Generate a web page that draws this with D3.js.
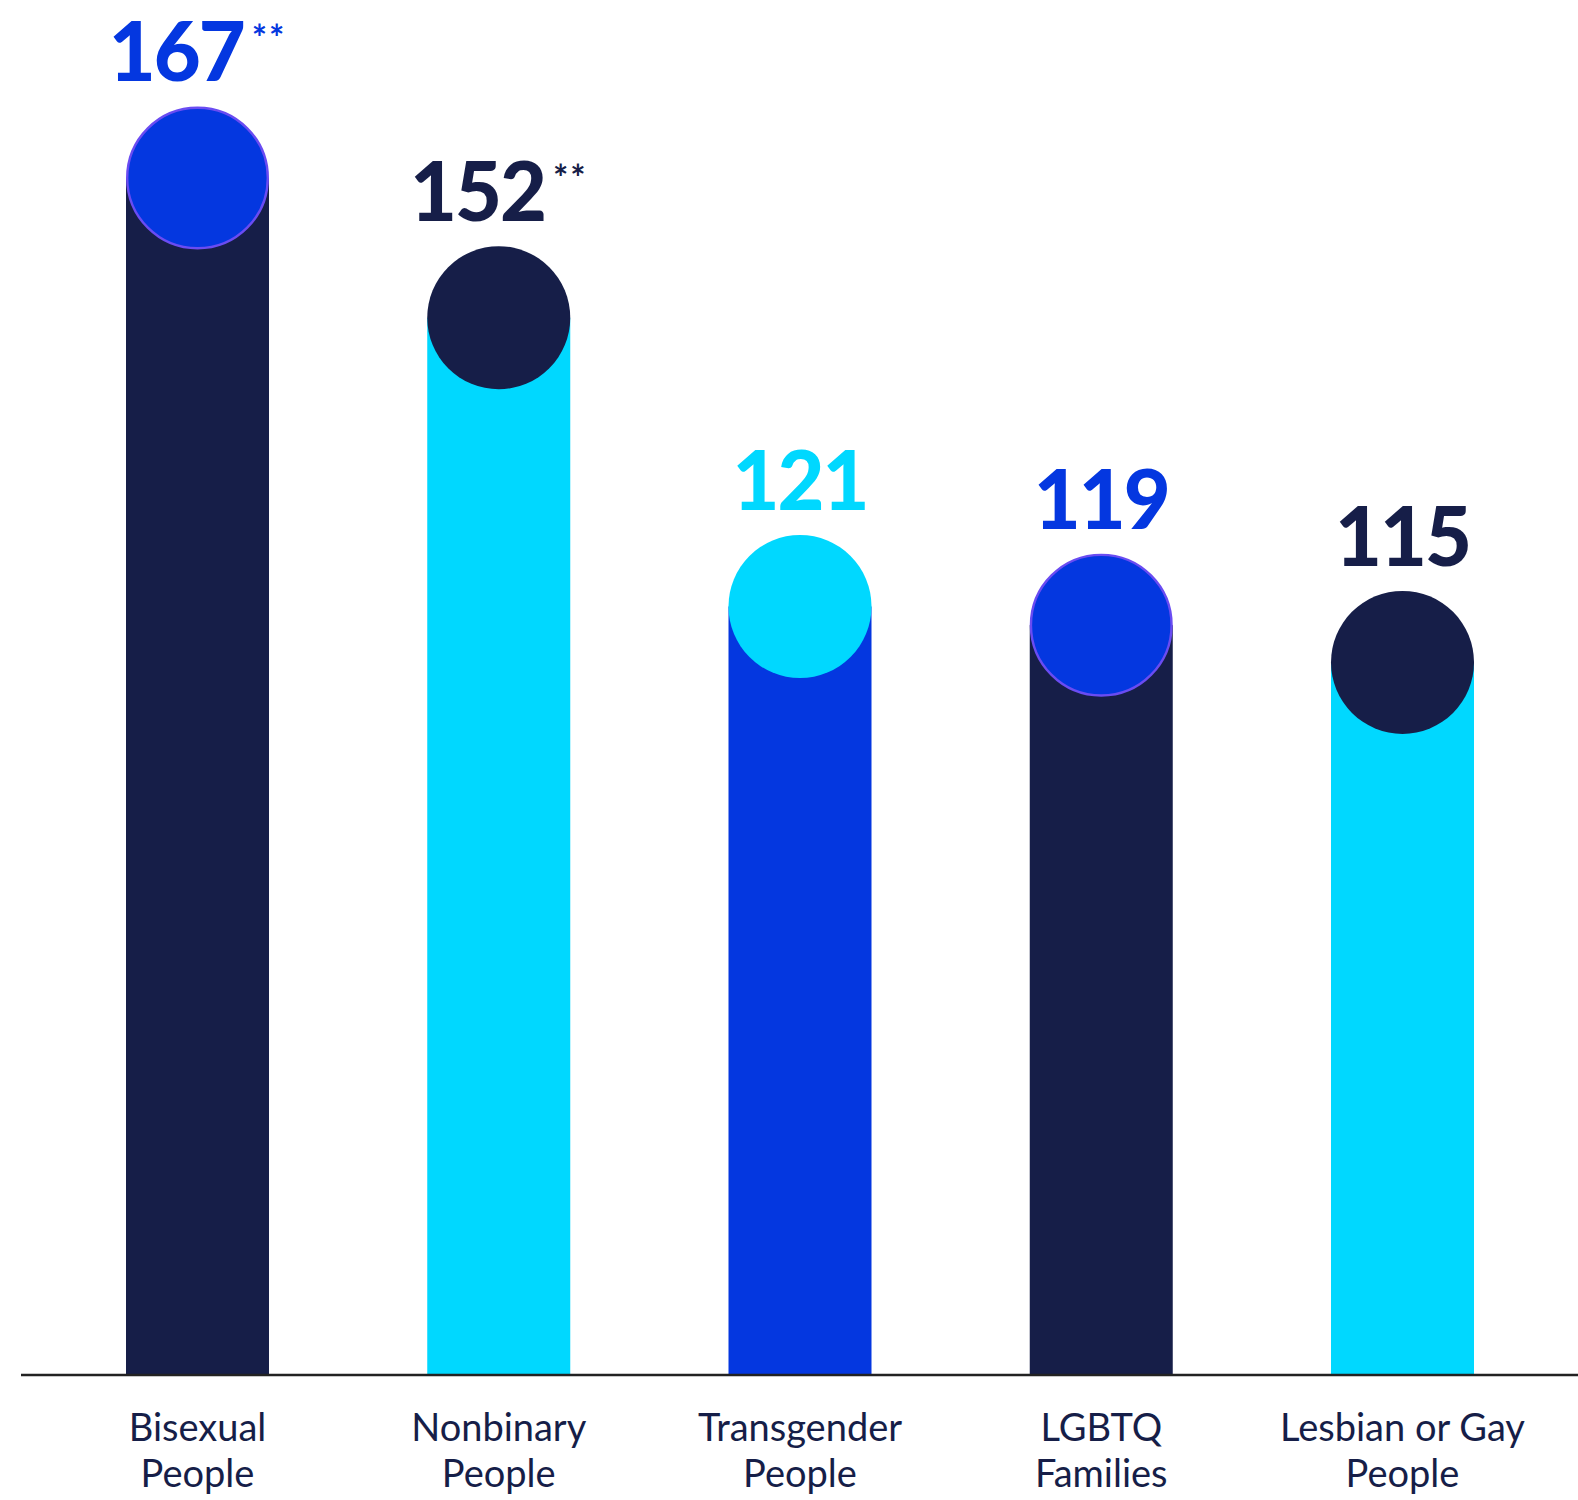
<!DOCTYPE html>
<html>
<head>
<meta charset="utf-8">
<script src="https://cdn.jsdelivr.net/npm/d3@7"></script>
<style>
  html, body { margin: 0; padding: 0; background: #ffffff; }
  svg { display: block; }
</style>
</head>
<body>
<script>
// Data
const categories = ["Bisexual People", "Nonbinary People", "Transgender People", "LGBTQ Families", "Lesbian or Gay People"];
const labelLines = [["Bisexual", "People"], ["Nonbinary", "People"], ["Transgender", "People"], ["LGBTQ", "Families"], ["Lesbian or Gay", "People"]];
const values = [167, 152, 121, 119, 115];
const notes = ["**", "**", "", "", ""];

// Palette
const NAVY = "#161e48", BLUE = "#0437e0", CYAN = "#00d8ff", RING = "#6a4cf2";
const barFill = [NAVY, CYAN, BLUE, NAVY, CYAN];
const capFill = [BLUE, NAVY, CYAN, BLUE, NAVY];
const valueFill = [BLUE, NAVY, CYAN, BLUE, NAVY];

const W = 1578, H = 1500;
const baseY = 1375;

const svg = d3.select("body").append("svg")
  .attr("width", W).attr("height", H);

const x = d3.scaleBand()
  .domain(categories)
  .range([126, 1474])
  .paddingInner(0.5253)
  .paddingOuter(0);

const y = d3.scaleLinear()
  .domain([38.5, 167])
  .range([baseY, 178]);

const r = x.bandwidth() / 2;
const rows = categories.map((c, i) => ({ c, i, v: values[i], note: notes[i] }));

const g = svg.append("g");

// Columns running from the baseline up to the cap centre
g.selectAll("rect.bar").data(rows).join("rect")
  .attr("class", "bar")
  .attr("x", d => x(d.c))
  .attr("y", d => y(d.v))
  .attr("width", x.bandwidth())
  .attr("height", d => baseY - y(d.v))
  .attr("fill", d => barFill[d.i]);

// Round caps
g.selectAll("circle.cap").data(rows).join("circle")
  .attr("class", "cap")
  .attr("cx", d => x(d.c) + r)
  .attr("cy", d => y(d.v))
  .attr("r", d => capFill[d.i] === BLUE ? r - 1.2 : r)
  .attr("fill", d => capFill[d.i])
  .attr("stroke", d => capFill[d.i] === BLUE ? RING : "none")
  .attr("stroke-width", 2.4);

// Value labels above each cap
const vt = g.selectAll("text.val").data(rows).join("text")
  .attr("class", "val")
  .attr("x", d => x(d.c) + r)
  .attr("y", d => y(d.v) - r - 25)
  .attr("text-anchor", "middle")
  .attr("fill", d => valueFill[d.i])
  .style("font-family", "Lato, 'Open Sans', sans-serif")
  .style("font-weight", 900)
  .style("font-size", "81px")
  .style("letter-spacing", "-2px");
vt.append("tspan").text(d => d.v);
vt.filter(d => d.note).append("tspan")
  .attr("dx", 8)
  .attr("dy", -30)
  .style("font-size", "36px")
  .style("font-weight", 700)
  .style("letter-spacing", "2px")
  .text(d => d.note);

// Baseline
svg.append("line")
  .attr("x1", 21).attr("x2", W)
  .attr("y1", baseY).attr("y2", baseY)
  .attr("stroke", "#222222")
  .attr("stroke-width", 2.5);

// Category labels
const lt = svg.selectAll("text.cat").data(rows).join("text")
  .attr("class", "cat")
  .attr("x", d => x(d.c) + r)
  .attr("y", 1441)
  .attr("text-anchor", "middle")
  .attr("fill", NAVY)
  .style("font-family", "Lato, 'Open Sans', sans-serif")
  .style("font-weight", 400)
  .style("font-size", "38px");
lt.selectAll("tspan").data(d => labelLines[d.i]).join("tspan")
  .attr("x", function () { return d3.select(this.parentNode).attr("x"); })
  .attr("dy", (t, k) => k === 0 ? 0 : 46)
  .text(t => t);
</script>
</body>
</html>
